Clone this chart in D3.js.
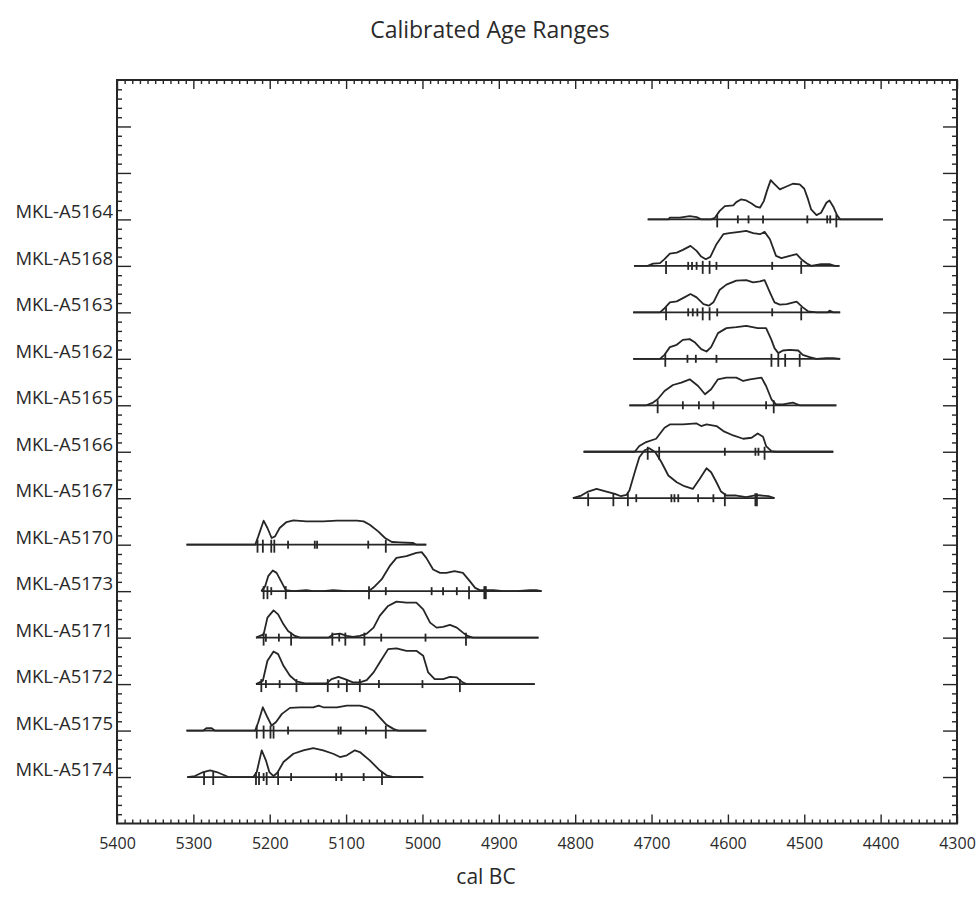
<!DOCTYPE html>
<html><head><meta charset="utf-8">
<script src="https://cdn.jsdelivr.net/npm/d3@7"></script>
<style>
html,body{margin:0;padding:0;background:#fff;}
svg text{font-family:"Open Sans","Noto Sans",sans-serif;fill:#2a2a2a;}
</style></head>
<body><svg id="chart" width="979" height="915"></svg>
<script>
// ---------- DATA ----------
const title = "Calibrated Age Ranges";
const xLabel = "cal BC";
const samples = ["MKL-A5164","MKL-A5168","MKL-A5163","MKL-A5162","MKL-A5165","MKL-A5166","MKL-A5167",
                 "MKL-A5170","MKL-A5173","MKL-A5171","MKL-A5172","MKL-A5175","MKL-A5174"];
const xTickYears = [5400,5300,5200,5100,5000,4900,4800,4700,4600,4500,4400,4300];

// probability curves: [year cal BC, relative probability]
const curveA5164 = [[4705,0],[4678,0],[4676,1.7],[4663,1.7],[4650,3.3],[4641,2.3],[4635,0],[4622,0],[4617,1.7],[4611,8.3],[4604,13.3],[4593,14],[4589,17.3],[4583,20],[4576,19],[4569,16],[4563,12.7],[4558,11.7],[4553,18.3],[4549,28.3],[4544,39.3],[4540,36],[4532,30],[4524,32.7],[4515,35.7],[4506,35],[4500,30.7],[4495,20],[4491,10],[4484,4.3],[4478,6.7],[4471,16.7],[4467,19],[4462,12.7],[4457,4],[4453,0],[4397,0]];
const curveA5168 = [[4723,0],[4705,0],[4698,2.3],[4689,2.7],[4683,6.7],[4676,12.3],[4667,13.3],[4659,16],[4649,20],[4641,15],[4635,9.3],[4629,6.7],[4623,9],[4615,21.7],[4606,31.7],[4598,32.7],[4585,34],[4576,35],[4567,32.7],[4558,31.7],[4552,34],[4545,26.7],[4537,10],[4530,7.7],[4519,10],[4510,11.7],[4504,6.7],[4497,2.7],[4491,0],[4478,1.7],[4467,1.7],[4460,0],[4454,0]];
const curveA5163 = [[4724,0],[4689,0],[4684,3.3],[4676,10],[4667,11],[4657,15],[4649,18.3],[4641,15],[4632,8.3],[4625,6.7],[4619,10],[4611,22.3],[4602,27.7],[4589,31.7],[4576,32.3],[4567,30],[4558,31],[4552,32.3],[4545,20],[4539,10],[4532,7.7],[4523,8.3],[4510,10.7],[4502,5],[4495,1],[4484,0],[4469,0],[4467,1.7],[4462,0],[4453,0]];
const curveA5162 = [[4724,0],[4689,0],[4683,4],[4676,11.7],[4667,14],[4659,19],[4650,19.7],[4643,16.3],[4635,9.7],[4628,7.3],[4622,11.7],[4613,25.7],[4602,30.7],[4589,31.7],[4576,33],[4561,30.7],[4550,30.7],[4543,19],[4539,10.7],[4534,5.7],[4528,8.3],[4519,9],[4508,8.3],[4502,4],[4493,1.7],[4484,0],[4471,0.7],[4462,0.7],[4453,0]];
const curveA5165 = [[4729,0],[4707,0],[4698,2.7],[4692,6],[4683,14.3],[4672,20.3],[4661,22.7],[4650,26],[4639,19.3],[4630,11],[4622,16],[4613,26],[4602,27.7],[4589,27.7],[4580,24.3],[4571,26],[4556,27.7],[4550,19.3],[4543,6],[4537,1],[4528,1],[4515,2.7],[4506,0],[4458,0]];
const curveA5166 = [[4789,0],[4722,0],[4716,5.7],[4707,9.7],[4694,13],[4683,24],[4676,27.3],[4659,27.3],[4641,28.3],[4635,25.7],[4628,27.3],[4615,25.7],[4606,20.7],[4593,16.3],[4580,13],[4569,14],[4561,18.3],[4554,15],[4550,5.7],[4543,0.7],[4537,0],[4462,0]];
const curveA5167 = [[4803,0],[4792,2.7],[4783,6.7],[4772,9.3],[4759,6.7],[4748,4.3],[4740,2],[4733,3.3],[4729,7.7],[4722,26],[4716,41],[4709,48],[4703,50],[4695,46],[4687,36],[4678,22.7],[4667,16],[4657,12],[4646,9.3],[4637,19.3],[4628,30],[4622,26],[4615,16],[4609,6.7],[4602,2.7],[4589,2.7],[4576,1],[4563,3],[4556,2.7],[4547,2],[4539,0]];
const curveA5170 = [[5309,0],[5219,0],[5215,8.3],[5208,24],[5203,16.7],[5197.5,6.7],[5193,8.3],[5187,16.7],[5178,22.7],[5169,24.3],[5152,23.3],[5130,23.3],[5112,24],[5099,24],[5086,24],[5077,23.3],[5069,20],[5058,13.3],[5049,6.7],[5040,2.7],[5030,2.3],[5012,1.7],[5008,0],[4995,0]];
const curveA5173 = [[5211,0],[5206,5],[5202,15],[5196,20.7],[5191,18.3],[5184,8.3],[5179,1],[5169,0],[5152,1],[5143,0],[5130,0],[5117,1],[5099,0],[5071,0],[5064.5,3.3],[5053.5,11.7],[5043,25],[5034,33.3],[5021,35],[5008,38.3],[5001,39],[4995,33.3],[4986,21.7],[4977,18.3],[4968.5,18.3],[4958,20],[4947,18.3],[4938,10],[4931,3.3],[4925,1],[4907,1],[4894,0],[4877,0],[4859,1],[4851,1],[4844,0]];
const curveA5171 = [[5218,0],[5208,3.3],[5203,20],[5195,27.3],[5189,23.3],[5182,13.3],[5176,6.7],[5167,1.7],[5160,0],[5123,0],[5117,3.3],[5108,4],[5099,1.7],[5091,0.7],[5082,1.7],[5073,4],[5064,10],[5056,21.7],[5045,31.7],[5034,36],[5021,35],[5008,35],[4999,28.3],[4990,15],[4981.5,10],[4973,10.7],[4964,12.7],[4955,10],[4947,5],[4941,1.7],[4934,0],[4848,0]];
const curveA5172 = [[5218,0],[5209,3.3],[5203,23.3],[5195,32.7],[5189,30],[5182,18.3],[5173.5,8.3],[5165,2.7],[5154,0.7],[5125.5,0.7],[5119,5],[5110,7.3],[5101.5,5],[5091,1.7],[5082,1.7],[5073,4],[5064,11.7],[5056,21.7],[5045,35],[5034,35.7],[5021,33.3],[5008,33.3],[4999,28.3],[4992.5,11.7],[4984,5],[4973,5],[4964,7.3],[4955,6.7],[4947.5,1.7],[4942,0],[4853,0]];
const curveA5175 = [[5309,0],[5287,0],[5283,2.3],[5276,2.3],[5272,0],[5219,0],[5215,8.3],[5209,23.3],[5203,13.3],[5197.5,5],[5192,8.3],[5184,16.7],[5173.5,22.7],[5160,23.3],[5143,23.3],[5136,25],[5130,23.3],[5112,23.3],[5099,25],[5082,25],[5073,23.3],[5064,20],[5056,13.3],[5047,5.7],[5038,1.7],[5032,0],[4995,0]];
const curveA5174 = [[5308,0],[5298,1],[5287,5],[5278,6.7],[5269.5,5],[5261,2.3],[5254,0],[5221.5,0],[5217,5],[5210.5,26.7],[5205,16.7],[5200.5,5],[5195,1],[5190,4.3],[5182,15],[5169,23.3],[5156,26.7],[5143,29],[5130,26.7],[5117,23.3],[5108,20],[5099,21.7],[5088.5,26.7],[5082,25],[5069,16.7],[5056,6.7],[5047,1.7],[5038,0],[4999,0]];

const curves = [curveA5164,curveA5168,curveA5163,curveA5162,curveA5165,curveA5166,curveA5167,
                curveA5170,curveA5173,curveA5171,curveA5172,curveA5175,curveA5174];

// range boundary marks (years cal BC), long marks and short marks, per sample (same order)
const marksLong = [
  [4614,4458],
  [4681,4633,4624,4504],
  [4681,4633,4624,4504],
  [4682,4543,4534,4525,4506],
  [4692,4540],
  [4705,4690,4552],
  [4783,4750,4731,4604,4564,4562],
  [5216,5209,5198,5194,5048],
  [5208,5203,5179,5070,4939,4919,4917],
  [5208,5172,5118,5101,5076,4943],
  [5211,5165,5124,5099,5082,4951],
  [5217,5208,5199,5195,5048],
  [5286,5274,5218,5214,5204,5189,5053]
];
const marksShort = [
  [4587,4573,4554,4496,4470,4466],
  [4652,4647,4641,4615,4542],
  [4652,4646,4640,4614,4542],
  [4653,4642,4615],
  [4659,4638,4619,4550],
  [4604,4564,4560],
  [4720,4674,4670,4665,4639,4619],
  [5176,5141,5138,5071],
  [5198,5048,4988,4973,4955],
  [5205,5188,5109,5054,4996],
  [5205,5187,5110,5057,5000],
  [5176,5110,5107,5074],
  [5208,5172,5113,5106,5077]
];

// ---------- LAYOUT ----------
const plot = {left:117, right:957, top:80, bottom:823.5};
const ink = "#262626";

const svg = d3.select("#chart");

const x = d3.scaleLinear().domain([5400,4300]).range([plot.left, plot.right]);
// slot scale: sample i sits at slot i; three empty slots above the first sample
const y = d3.scaleLinear().domain([-3, samples.length]).range([plot.top, plot.bottom]);
const rowStep = y(1) - y(0);
const p = d3.scaleLinear().domain([0, 46.5]).range([0, rowStep]);

// title & axis label
svg.append("text").attr("x", 490).attr("y", 38).attr("text-anchor","middle")
   .attr("font-size", 23).text(title);
svg.append("text").attr("x", 486).attr("y", 884).attr("text-anchor","middle")
   .attr("font-size", 21).text(xLabel);

const xMinor = d3.range(5400, 4299, -10).filter(v => v % 100 !== 0);
const yMajor = d3.range(-2, samples.length);
const yMinor = d3.range(-3, samples.length, 0.2).filter(v => Math.abs(v - Math.round(v)) > 1e-6);

function styleAxis(g){
  g.select(".domain").remove();
  g.selectAll("line").attr("stroke", ink).attr("stroke-width", 1.4);
  g.selectAll("text").attr("fill", "#2a2a2a").attr("font-family","'Open Sans','Noto Sans',sans-serif");
}

svg.append("g").attr("transform",`translate(0,${plot.bottom})`)
  .call(d3.axisBottom(x).tickValues(xTickYears).tickSize(-9).tickPadding(14).tickFormat(d3.format("d")))
  .call(styleAxis).call(g => g.selectAll("text").attr("font-size", 16));
svg.append("g").attr("transform",`translate(0,${plot.bottom})`)
  .call(d3.axisBottom(x).tickValues(xMinor).tickSize(-4).tickFormat(""))
  .call(styleAxis);
svg.append("g").attr("transform",`translate(0,${plot.top})`)
  .call(d3.axisTop(x).tickValues(xTickYears).tickSize(-9).tickFormat(""))
  .call(styleAxis);
svg.append("g").attr("transform",`translate(0,${plot.top})`)
  .call(d3.axisTop(x).tickValues(xMinor).tickSize(-4).tickFormat(""))
  .call(styleAxis);
svg.append("g").attr("transform",`translate(${plot.left},0)`)
  .call(d3.axisLeft(y).tickValues(yMajor).tickSize(-14).tickFormat(""))
  .call(styleAxis);
svg.append("g").attr("transform",`translate(${plot.left},0)`)
  .call(d3.axisLeft(y).tickValues(yMinor).tickSize(-5).tickFormat(""))
  .call(styleAxis);
svg.append("g").attr("transform",`translate(${plot.right},0)`)
  .call(d3.axisRight(y).tickValues(yMajor).tickSize(-14).tickFormat(""))
  .call(styleAxis);
svg.append("g").attr("transform",`translate(${plot.right},0)`)
  .call(d3.axisRight(y).tickValues(yMinor).tickSize(-5).tickFormat(""))
  .call(styleAxis);

svg.append("rect").attr("x", plot.left).attr("y", plot.top)
  .attr("width", plot.right - plot.left).attr("height", plot.bottom - plot.top)
  .attr("fill","none").attr("stroke", ink).attr("stroke-width", 2);

// sample labels
svg.append("g").selectAll("text").data(samples).join("text")
  .attr("x", plot.left - 4).attr("y", (d,i) => y(i) - 1)
  .attr("text-anchor","end").attr("font-size", 18.5).text(d => d);

// distributions
const line = d3.line().x(d => x(d[0])).y(d => -p(d[1])).curve(d3.curveLinear);
const rows = svg.append("g").selectAll("g").data(samples).join("g")
  .attr("transform", (d,i) => `translate(0,${y(i)})`);

rows.append("line")
  .attr("x1", (d,i) => x(d3.max(curves[i], c => c[0])))
  .attr("x2", (d,i) => x(d3.min(curves[i], c => c[0])))
  .attr("stroke", ink).attr("stroke-width", 1.8);

rows.append("path").attr("d", (d,i) => line(curves[i]))
  .attr("fill","none").attr("stroke", ink).attr("stroke-width", 1.8).attr("stroke-linejoin","round");

rows.each(function(d,i){
  const g = d3.select(this);
  g.selectAll("line.long").data(marksLong[i]).join("line").attr("class","long")
    .attr("x1", v => x(v)).attr("x2", v => x(v)).attr("y1", -5).attr("y2", 8)
    .attr("stroke", ink).attr("stroke-width", 1.8);
  g.selectAll("line.short").data(marksShort[i]).join("line").attr("class","short")
    .attr("x1", v => x(v)).attr("x2", v => x(v)).attr("y1", -4).attr("y2", 4)
    .attr("stroke", ink).attr("stroke-width", 1.8);
});
</script></body></html>
